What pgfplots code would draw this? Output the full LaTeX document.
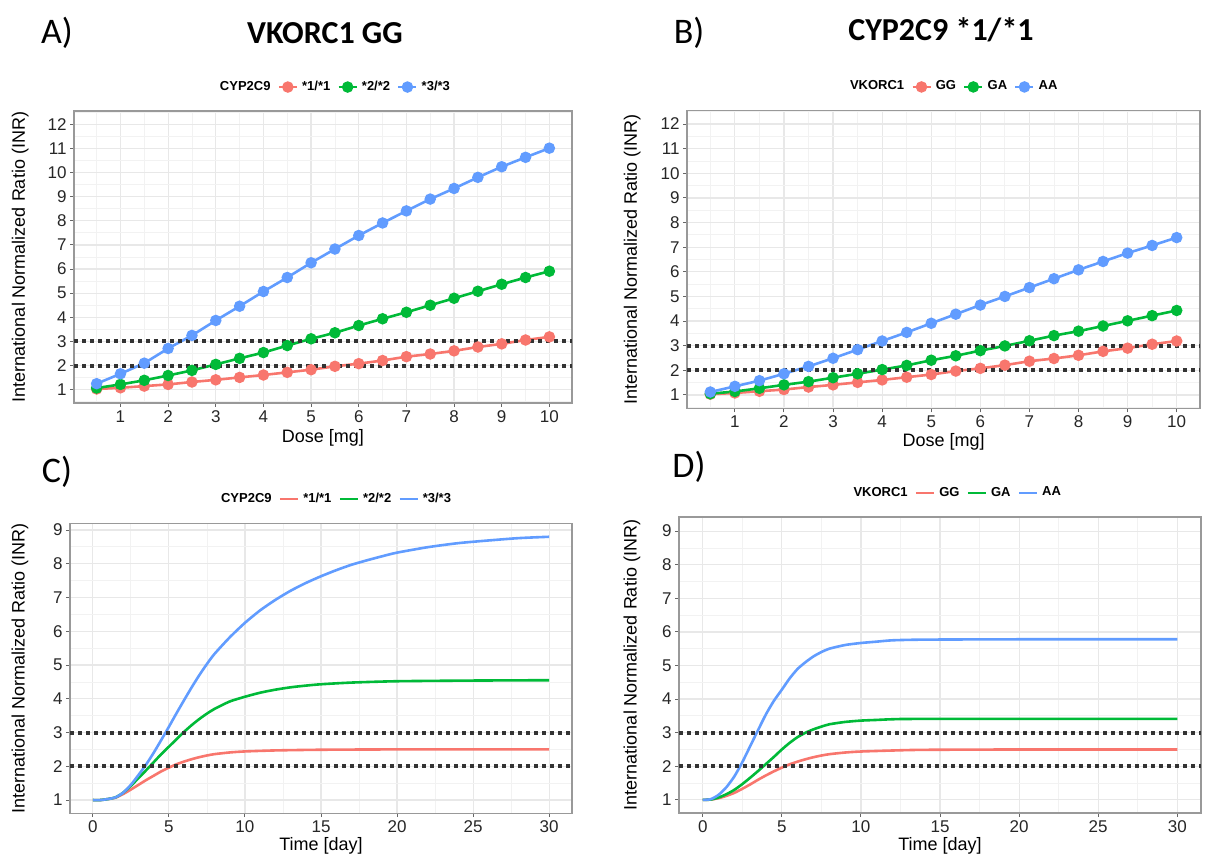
\documentclass[border=0pt]{standalone}
\usepackage{pgfplots}
\pgfplotsset{compat=1.18}
\usepackage{fontspec}
\setmainfont{Liberation Sans}
\newfontfamily\calfont{Carlito}
\definecolor{cr}{HTML}{F8766D}
\definecolor{cg}{HTML}{00BA38}
\definecolor{cb}{HTML}{619CFF}
\definecolor{dotc}{HTML}{333333}
\pgfplotsset{
  gg/.style={
    scale only axis,
    grid=both,
    major grid style={draw=black!9, line width=0.6pt},
    minor grid style={draw=black!5, line width=0.4pt},
    axis line style={draw=black!40, line width=0.6pt},
    tick align=outside,
    xtick pos=bottom, ytick pos=left,
    major tick length=2pt,
    minor tick length=0pt,
    tick style={draw=black!60, line width=0.5pt},
    xticklabel style={font=\fontsize{8.5}{10}\selectfont, text=black!85, inner sep=1.5pt},
    yticklabel style={font=\fontsize{8.5}{10}\selectfont, text=black!85, inner sep=1.5pt},
    label style={font=\fontsize{9}{11}\selectfont},
    /pgf/number format/assume math mode=true,
    legend style={draw=none, fill=none, legend columns=-1,
      font=\fontsize{6.5}{8}\selectfont\bfseries,
      /tikz/every even column/.append style={column sep=1.5pt},
      inner sep=0pt},
    legend image code/.code={\draw[mark repeat=2,mark phase=2] plot coordinates {(0pt,0pt) (4.5pt,0pt) (9pt,0pt)};},
  },
  pts/.style={line width=1.3pt, mark=*, mark size=2.2pt, mark options={solid}},
  lns/.style={line width=1.3pt, no marks, smooth, tension=0.4},
  dotline/.style={forget plot, draw=dotc, line width=2pt, dash pattern=on 2pt off 2pt, no marks},
}
\begin{document}
\begin{tikzpicture}
\useasboundingbox (0,0) rectangle (606.5pt,-427pt);
% titles
\node[font=\calfont\fontsize{18}{20}\selectfont] at (28.5pt,-16.5pt) {A)};
\node[font=\calfont\bfseries\fontsize{16}{18}\selectfont] at (162.5pt,-16.5pt) {VKORC1 GG};
\node[font=\calfont\fontsize{18}{20}\selectfont] at (344.5pt,-16.5pt) {B)};
\node[font=\calfont\bfseries\fontsize{16}{18}\selectfont] at (470.5pt,-15pt) {CYP2C9 *1/*1};
\node[font=\calfont\fontsize{18}{20}\selectfont] at (28.5pt,-236pt) {C)};
\node[font=\calfont\fontsize{18}{20}\selectfont] at (344.5pt,-233.5pt) {D)};

% ---------------- A
\begin{axis}[gg, at={(37pt,-55.5pt)}, anchor=north west, width=249pt, height=146pt,
  xmin=0.025, xmax=10.475, ymin=0.45, ymax=12.55,
  xtick={1,...,10}, ytick={1,...,12},
  minor xtick={0.5,1.5,...,9.5}, minor ytick={0.5,1.5,...,12.5},
  xlabel={Dose [mg]}, ylabel={International Normalized Ratio (INR)},
  xlabel style={at={(axis description cs:0.5,-0.118)},anchor=center},
  ylabel style={at={(axis description cs:-0.108,0.5)},anchor=center},
  legend style={at={(0.524,1.082)},anchor=center}]
\addlegendimage{empty legend}\addlegendentry{CYP2C9}
\addplot[cr, pts] coordinates {(0.5,1.03)(1,1.08)(1.5,1.15)(2,1.22)(2.5,1.32)(3,1.41)(3.5,1.51)(4,1.61)(4.5,1.72)(5,1.83)(5.5,1.97)(6,2.08)(6.5,2.21)(7,2.37)(7.5,2.48)(8,2.61)(8.5,2.77)(9,2.90)(9.5,3.06)(10,3.19)};
\addlegendentry{*1/*1}
\addplot[cg, pts] coordinates {(0.5,1.07)(1,1.22)(1.5,1.39)(2,1.59)(2.5,1.80)(3,2.05)(3.5,2.30)(4,2.54)(4.5,2.83)(5,3.11)(5.5,3.36)(6,3.66)(6.5,3.94)(7,4.21)(7.5,4.50)(8,4.79)(8.5,5.08)(9,5.37)(9.5,5.65)(10,5.91)};
\addlegendentry{*2/*2}
\addplot[cb, pts] coordinates {(0.5,1.25)(1,1.66)(1.5,2.10)(2,2.71)(2.5,3.25)(3,3.87)(3.5,4.46)(4,5.07)(4.5,5.65)(5,6.26)(5.5,6.83)(6,7.39)(6.5,7.91)(7,8.41)(7.5,8.90)(8,9.34)(8.5,9.80)(9,10.24)(9.5,10.63)(10,11.01)};
\addlegendentry{*3/*3}
\addplot[dotline] coordinates {(0.025,2)(10.475,2)};
\addplot[dotline] coordinates {(0.025,3)(10.475,3)};
\end{axis}

% ---------------- B
\begin{axis}[gg, at={(343.5pt,-55.25pt)}, anchor=north west, width=256.5pt, height=149pt,
  xmin=0.025, xmax=10.475, ymin=0.45, ymax=12.55,
  xtick={1,...,10}, ytick={1,...,12},
  minor xtick={0.5,1.5,...,9.5}, minor ytick={0.5,1.5,...,12.5},
  xlabel={Dose [mg]}, ylabel={International Normalized Ratio (INR)},
  xlabel style={at={(axis description cs:0.5,-0.112)},anchor=center},
  ylabel style={at={(axis description cs:-0.107,0.5)},anchor=center},
  legend style={at={(0.52,1.079)},anchor=center}]
\addlegendimage{empty legend}\addlegendentry{VKORC1}
\addplot[cr, pts] coordinates {(0.5,1.03)(1,1.08)(1.5,1.15)(2,1.22)(2.5,1.32)(3,1.41)(3.5,1.51)(4,1.61)(4.5,1.72)(5,1.83)(5.5,1.97)(6,2.08)(6.5,2.21)(7,2.37)(7.5,2.48)(8,2.61)(8.5,2.77)(9,2.90)(9.5,3.06)(10,3.19)};
\addlegendentry{GG}
\addplot[cg, pts] coordinates {(0.5,1.05)(1,1.14)(1.5,1.27)(2,1.41)(2.5,1.54)(3,1.70)(3.5,1.86)(4,2.03)(4.5,2.20)(5,2.41)(5.5,2.59)(6,2.80)(6.5,2.99)(7,3.20)(7.5,3.41)(8,3.59)(8.5,3.80)(9,4.01)(9.5,4.22)(10,4.43)};
\addlegendentry{GA}
\addplot[cb, pts] coordinates {(0.5,1.12)(1,1.35)(1.5,1.58)(2,1.86)(2.5,2.16)(3,2.49)(3.5,2.84)(4,3.19)(4.5,3.54)(5,3.91)(5.5,4.28)(6,4.65)(6.5,5.00)(7,5.36)(7.5,5.72)(8,6.08)(8.5,6.42)(9,6.76)(9.5,7.07)(10,7.39)};
\addlegendentry{AA}
\addplot[dotline] coordinates {(0.025,2)(10.475,2)};
\addplot[dotline] coordinates {(0.025,3)(10.475,3)};
\end{axis}

% ---------------- C
\begin{axis}[gg, at={(35pt,-261.8pt)}, anchor=north west, width=251pt, height=144.8pt,
  xmin=-1.5, xmax=31.5, ymin=0.61, ymax=9.19,
  xtick={0,5,...,30}, ytick={1,...,9},
  minor xtick={2.5,7.5,...,27.5}, minor ytick={1.5,2.5,...,8.5},
  xlabel={Time [day]}, ylabel={International Normalized Ratio (INR)},
  xlabel style={at={(axis description cs:0.5,-0.112)},anchor=center},
  ylabel style={at={(axis description cs:-0.0996,0.5)},anchor=center},
  legend style={at={(0.53,1.085)},anchor=center}]
\addlegendimage{empty legend}\addlegendentry{CYP2C9}
\addplot[cr, lns] coordinates {(0,1)(0.5,1)(1,1.03)(1.5,1.07)(2,1.18)(2.5,1.31)(3,1.45)(3.5,1.59)(4,1.72)(4.5,1.85)(5,1.96)(5.5,2.06)(6,2.14)(6.5,2.21)(7,2.27)(7.5,2.32)(8,2.36)(9,2.41)(10,2.44)(12,2.47)(15,2.49)(20,2.50)(30,2.50)};
\addlegendentry{*1/*1}
\addplot[cg, lns] coordinates {(0,1)(0.5,1)(1,1.03)(1.5,1.08)(2,1.22)(2.5,1.42)(3,1.65)(3.5,1.88)(4,2.12)(4.5,2.36)(5,2.58)(5.5,2.80)(6,3.02)(6.5,3.22)(7,3.40)(7.5,3.56)(8,3.70)(9,3.92)(10,4.06)(11,4.18)(12,4.27)(13,4.34)(14,4.39)(15,4.43)(17,4.48)(20,4.52)(25,4.54)(30,4.55)};
\addlegendentry{*2/*2}
\addplot[cb, lns] coordinates {(0,1)(0.5,1)(1,1.03)(1.5,1.08)(2,1.22)(2.5,1.45)(3,1.74)(3.5,2.05)(4,2.40)(4.5,2.78)(5,3.17)(5.5,3.57)(6,3.96)(6.5,4.34)(7,4.70)(7.5,5.03)(8,5.33)(9,5.82)(10,6.25)(11,6.62)(12,6.93)(13,7.20)(14,7.43)(15,7.63)(16,7.81)(17,7.97)(18,8.10)(19,8.22)(20,8.33)(22,8.49)(24,8.61)(26,8.69)(28,8.76)(30,8.80)};
\addlegendentry{*3/*3}
\addplot[dotline] coordinates {(-1.5,2)(31.5,2)};
\addplot[dotline] coordinates {(-1.5,3)(31.5,3)};
\end{axis}

% ---------------- D
\begin{axis}[gg, at={(339.5pt,-258.5pt)}, anchor=north west, width=261pt, height=148pt,
  xmin=-1.5, xmax=31.5, ymin=0.61, ymax=9.42,
  xtick={0,5,...,30}, ytick={1,...,9},
  minor xtick={2.5,7.5,...,27.5}, minor ytick={1.5,2.5,...,8.5},
  xlabel={Time [day]}, ylabel={International Normalized Ratio (INR)},
  xlabel style={at={(axis description cs:0.5,-0.11)},anchor=center},
  ylabel style={at={(axis description cs:-0.09,0.5)},anchor=center},
  legend style={at={(0.533,1.081)},anchor=center}]
\addlegendimage{empty legend}\addlegendentry{VKORC1}
\addplot[cr, lns] coordinates {(0,1)(0.5,1.01)(1,1.05)(1.5,1.12)(2,1.21)(2.5,1.33)(3,1.46)(3.5,1.60)(4,1.73)(4.5,1.85)(5,1.96)(5.5,2.06)(6,2.14)(6.5,2.21)(7,2.27)(7.5,2.32)(8,2.36)(9,2.41)(10,2.44)(12,2.47)(14,2.49)(20,2.50)(30,2.50)};
\addlegendentry{GG}
\addplot[cg, lns] coordinates {(0,1)(0.5,1.01)(1,1.07)(1.5,1.17)(2,1.30)(2.5,1.47)(3,1.66)(3.5,1.86)(4,2.07)(4.5,2.28)(5,2.50)(5.5,2.70)(6,2.87)(6.5,3.00)(7,3.10)(7.5,3.18)(8,3.25)(9,3.32)(10,3.36)(11,3.38)(12,3.40)(14,3.41)(30,3.41)};
\addlegendentry{GA}
\addplot[cb, lns] coordinates {(0,1)(0.5,1.02)(1,1.15)(1.5,1.38)(2,1.70)(2.5,2.12)(3,2.60)(3.5,3.08)(4,3.55)(4.5,3.95)(5,4.28)(5.5,4.62)(6,4.90)(6.5,5.10)(7,5.27)(7.5,5.40)(8,5.50)(9,5.61)(10,5.67)(11,5.71)(12,5.75)(14,5.77)(20,5.78)(30,5.78)};
\addlegendentry{AA}
\addplot[dotline] coordinates {(-1.5,2)(31.5,2)};
\addplot[dotline] coordinates {(-1.5,3)(31.5,3)};
\end{axis}
\end{tikzpicture}
\end{document}
